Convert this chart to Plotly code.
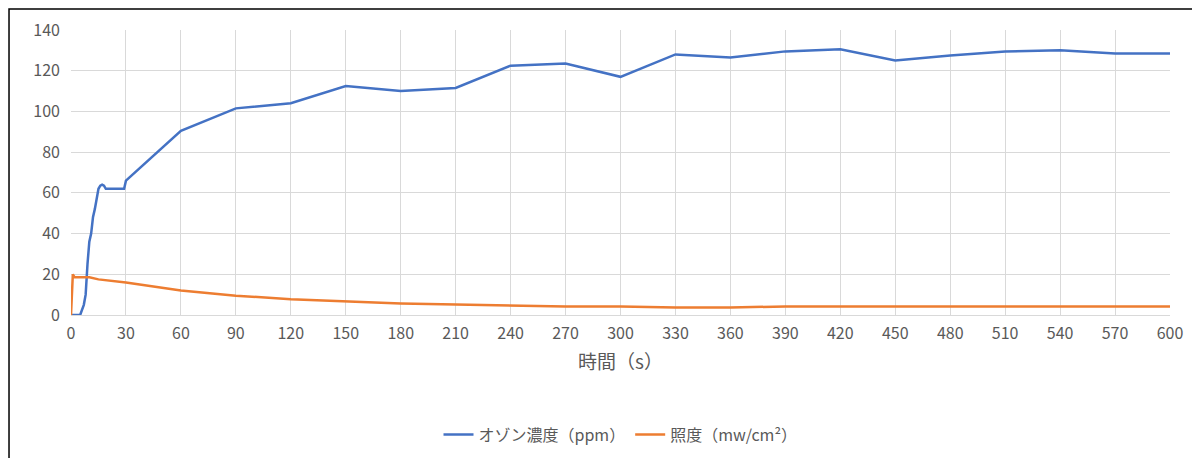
import plotly.graph_objects as go

# ozone concentration (ppm)
ozone_t = [0, 5, 7, 8, 9, 10, 11, 12, 13, 14, 15, 16, 17, 18, 19, 20, 25, 29, 30, 60, 90, 120, 150, 180, 210,
           240, 270, 300, 330, 360, 390, 420, 450, 480, 510, 540, 570, 600]
ozone_v = [0, 0, 5, 10, 25, 36, 40, 48, 52, 58, 62, 63.5, 64, 63.5, 62, 62, 62, 62, 66, 90.5, 101.5, 104, 112.5,
           110, 111.5, 122.5, 123.5, 117, 128, 126.5, 129.5, 130.5, 125, 127.5, 129.5, 130, 128.5, 128.5]

# illuminance (mw/cm2)
lux_t = [0, 1, 2, 5, 10, 15, 20, 30, 60, 90, 120, 150, 180, 210, 240, 270, 300, 330, 360, 390, 420, 450,
         480, 510, 540, 570, 600]
lux_v = [0, 20, 18.5, 18.5, 18.5, 17.5, 17, 16, 12, 9.5, 7.7, 6.7, 5.7, 5.2, 4.7, 4.2, 4.2, 3.7, 3.7, 4.2,
         4.2, 4.2, 4.2, 4.2, 4.2, 4.2, 4.2]

fig = go.Figure()
fig.add_scatter(x=ozone_t, y=ozone_v, mode="lines", name="オゾン濃度（ppm）",
                line=dict(color="#4472C4", width=2.5))
fig.add_scatter(x=lux_t, y=lux_v, mode="lines", name="照度（mw/cm²）",
                line=dict(color="#ED7D31", width=2.5))

grid = "#D9D9D9"
fig.update_layout(
    width=1200, height=458,
    margin=dict(l=63, r=38, t=22, b=151),
    plot_bgcolor="white", paper_bgcolor="white",
    font=dict(family="Noto Sans CJK JP", size=16, color="#595959"),
    xaxis=dict(range=[0, 600], tickmode="linear", tick0=0, dtick=30, showgrid=True, gridcolor=grid,
               zeroline=False, showline=True, linecolor=grid, automargin=False, ticklabelstandoff=4,
               title=dict(text="時間（s）", standoff=12)),
    yaxis=dict(range=[0, 140], dtick=20, showgrid=True, gridcolor=grid, zeroline=False,
               automargin=False, ticklabelstandoff=10),
    legend=dict(orientation="h", x=0.5, xanchor="center", y=-0.36, yanchor="top",
                font=dict(size=16)),
    shapes=[dict(type="rect", xref="paper", yref="paper", x0=-0.0564, x1=1.0328, y0=-0.523, y1=1.0737,
                 line=dict(color="black", width=1.5))],
)

fig.write_html("out.html")
